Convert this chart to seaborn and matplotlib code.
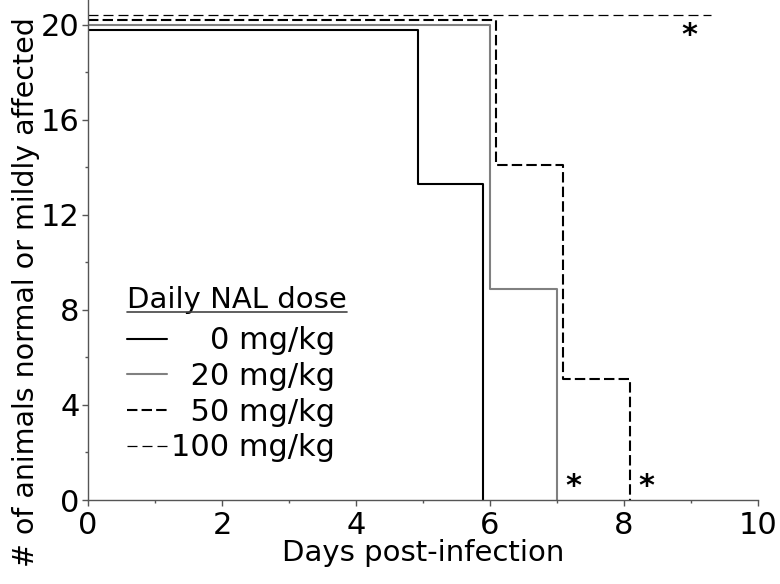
import numpy as np
import pandas as pd
import matplotlib
matplotlib.use("Agg")
import matplotlib.pyplot as plt
import seaborn as sns
from matplotlib.lines import Line2D

sns.set_theme(style="ticks")
plt.rcParams['font.family'] = ['DejaVu Sans']
plt.rcParams['text.color'] = 'black'

# ---- data ----
doses = ["0 mg/kg", "20 mg/kg", "50 mg/kg", "100 mg/kg"]
legend_labels = ["    0 mg/kg", "  20 mg/kg", "  50 mg/kg", "100 mg/kg"]
days_0 = [0, 4.92, 5.90]
count_0 = [19.8, 13.3, 0]
days_20 = [0, 6.0, 7.0]
count_20 = [20.0, 8.9, 0]
days_50 = [0, 6.09, 7.09, 8.09]
count_50 = [20.2, 14.1, 5.1, 0]
days_100 = [0, 9.3]
count_100 = [20.4, 20.4]
star_x = [8.98, 7.24, 8.34]
star_y = [19.55, 0.58, 0.58]

x_ticks = [0, 2, 4, 6, 8, 10]
y_ticks = [0, 4, 8, 12, 16, 20]

series = [(days_0, count_0), (days_20, count_20), (days_50, count_50), (days_100, count_100)]
styles = [
    dict(color="black", lw=1.5, linestyle="-"),
    dict(color="#808080", lw=1.5, linestyle="-"),
    dict(color="black", lw=1.5, linestyle=(0, (5, 2))),
    dict(color="black", lw=0.9, linestyle=(0, (8, 4))),
]

fig = plt.figure(figsize=(7.8, 5.84), dpi=100)
ax = fig.add_axes([88 / 780, 84 / 584, 670 / 780, 500 / 584])

handles = []
for (dx, cy), st, lab in zip(series, styles, doses):
    df = pd.DataFrame({"day": dx, "count": cy})
    sns.lineplot(data=df, x="day", y="count", ax=ax, drawstyle="steps-post",
                 estimator=None, sort=False, legend=False, **st)
    handles.append(Line2D([], [], **st))

for sx, sy in zip(star_x, star_y):
    ax.text(sx, sy, "*", ha="center", va="center", fontsize=22, fontweight="bold", color="black")

ax.set_xlim(0, 10)
ax.set_ylim(0, 21.05)
ax.set_xticks(x_ticks)
ax.set_yticks(y_ticks)
ax.set_xticks([1, 3, 5, 7, 9], minor=True)
ax.set_yticks([2, 6, 10, 14, 18], minor=True)
ax.tick_params(axis="both", which="major", direction="out", length=4, width=1,
               color="#555555", labelsize=22, labelcolor="black", pad=2)
ax.tick_params(axis="both", which="minor", direction="out", length=2.5, width=1, color="#555555")
ax.tick_params(axis="x", which="major", pad=4)

for side in ["top", "right"]:
    ax.spines[side].set_visible(False)
for side in ["left", "bottom"]:
    ax.spines[side].set_color("#555555")
    ax.spines[side].set_linewidth(1)

ax.set_xlabel("Days post-infection", fontsize=21, color="black", labelpad=-1)
ax.set_ylabel("# of animals normal or mildly affected", fontsize=20.5, color="black")
ax.yaxis.set_label_coords(-0.072, 0.416)

leg = ax.legend(handles, legend_labels, title="Daily NAL dose", loc="upper left",
                bbox_to_anchor=(0.058, 0.428), frameon=False, fontsize=22, title_fontsize=21,
                handlelength=1.3, handletextpad=0.13, labelspacing=0.22, borderpad=0,
                borderaxespad=0, alignment="left", labelcolor="black")
leg.get_title().set_color("black")
leg._legend_box.sep = 0.22 * 22 + 4

fig.canvas.draw()
tb = leg.get_title().get_window_extent()
inv = fig.transFigure.inverted()
(x0, y0), (x1, y1) = inv.transform([(tb.x0, tb.y0 + 2), (tb.x1, tb.y0 + 2)])
fig.add_artist(Line2D([x0, x1], [y0, y1], color="#444444", lw=1.2, transform=fig.transFigure))

fig.savefig("out.png", dpi=100)
